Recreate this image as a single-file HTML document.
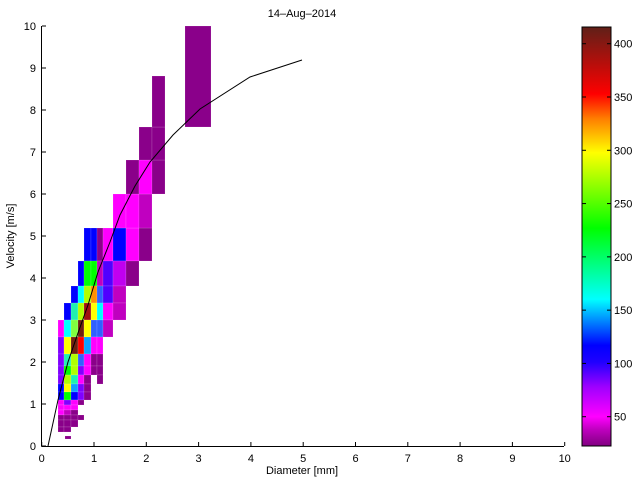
<!DOCTYPE html>
<html><head><meta charset="utf-8"><style>
html,body{margin:0;padding:0;background:#fff;}
svg{display:block;font-family:"Liberation Sans",sans-serif;}
</style></head><body>
<svg id="s" width="640" height="480" viewBox="0 0 640 480" xmlns="http://www.w3.org/2000/svg">
<defs>
<linearGradient id="cb" x1="0" y1="1" x2="0" y2="0">
<stop offset="0" stop-color="#800080"/>
<stop offset="0.04" stop-color="#c000c0"/>
<stop offset="0.07" stop-color="#ff00ff"/>
<stop offset="0.14" stop-color="#a000ff"/>
<stop offset="0.2" stop-color="#2000ff"/>
<stop offset="0.24" stop-color="#0000ff"/>
<stop offset="0.35" stop-color="#00ffff"/>
<stop offset="0.52" stop-color="#00ff00"/>
<stop offset="0.7" stop-color="#ffff00"/>
<stop offset="0.78" stop-color="#ff8000"/>
<stop offset="0.84" stop-color="#ff0000"/>
<stop offset="1" stop-color="#602018"/>
</linearGradient>
</defs>
<g id="cells" stroke="rgba(255,255,255,0.25)" stroke-width="0.5"></g>
<polyline fill="none" stroke="#000" stroke-width="1" points="48,446 58,400 68,362 78,333 88,305 98,272 110,242 120,215 135,186 150,162 173,135 200,109 250,77 302,60"/>
<g stroke="#000" stroke-width="1" fill="none">
<line x1="41.5" y1="26" x2="41.5" y2="446.5"/>
<line x1="41.5" y1="446.5" x2="564" y2="446.5"/>
</g>
<g id="ticks" stroke="#000" stroke-width="1"></g>
<g id="lbl" font-size="11" fill="#000"></g>
<text x="302" y="17" font-size="11" text-anchor="middle">14–Aug–2014</text>
<text x="302" y="474" font-size="11" text-anchor="middle">Diameter [mm]</text>
<text transform="translate(14,236) rotate(-90)" font-size="11" text-anchor="middle">Velocity [m/s]</text>
<rect x="582" y="27" width="29" height="419" fill="url(#cb)" stroke="#000" stroke-width="1"/>
<g id="cbt" stroke="#000" stroke-width="1"></g>
<g id="cbl" font-size="11"></g>
</svg>
<script>
var NS="http://www.w3.org/2000/svg";
function el(p,t,a,txt){var e=document.createElementNS(NS,t);for(var k in a)e.setAttribute(k,a[k]);if(txt!==undefined)e.textContent=txt;document.getElementById(p).appendChild(e);}
var X=function(d){return 41.7+52.3*d;},Y=function(v){return 446-42*v;};
for(var i=0;i<=10;i++){
 el("ticks","line",{x1:X(i),y1:446,x2:X(i),y2:442});
 el("ticks","line",{x1:42,y1:Y(i),x2:46,y2:Y(i)});
 el("lbl","text",{x:X(i),y:462,"text-anchor":"middle"},i);
 el("lbl","text",{x:36,y:Y(i)+4,"text-anchor":"end"},i);
}
for(var v=50;v<=400;v+=50){var y=470-v*(373/350);
 el("cbt","line",{x1:582,y1:y,x2:586,y2:y});el("cbt","line",{x1:607,y1:y,x2:611,y2:y});
 el("cbl","text",{x:614,y:y+4},v);}
var C={P:"#8a008a",M:"#ff00ff",m:"#c000c0",V:"#8000ff",v:"#c000f0",W:"#5000ff",B:"#0000ff",b:"#3060ff",S:"#10a0ff",C:"#00ffff",T:"#20f0b0",G:"#00ff00",g:"#80ff40",L:"#b0ff00",Y:"#ffff00",O:"#ff9000",R:"#ff0000",D:"#a01010",K:"#702010"};
var cx=[58,64,71,78,84,91,97,103,113,126,139,152,165];
var rows=[
[228,261,"....BBPMBMP."],
[261,286,"...BGGmWvP.."],
[286,303,"..BCLObWm..."],
[303,320,".BTLDYCMm..."],
[320,337,"MCgKYbbm...."],
[337,354,"VYKRSMM....."],
[354,366,"VTLbMPP....."],
[366,375,"VGLVMPP....."],
[375,384,"VLTMP.P....."],
[384,392,"BYSVP......."],
[392,400,"BGBVP......."],
[400,405,"MVMP........"],
[405,410,"MMM........."],
[410,415,"MmP........."],
[415,420,"PPPP........"],
[420,427,"PPP........."],
[427,432,"PP.........."],
[194,228,"........MMm."],
[160,194,".........PMP"],
[127,160,"..........PP"],
[76,127,"...........P"]];
rows.forEach(function(r){for(var j=0;j<12;j++){var c=r[2][j];if(c==".")continue;
 el("cells","rect",{x:cx[j],y:r[0],width:cx[j+1]-cx[j],height:r[1]-r[0],fill:C[c]});}});
el("cells","rect",{x:185,y:26,width:26,height:101,fill:C.P});
el("cells","rect",{x:65,y:436,width:6,height:3,fill:C.P});
</script>
</body></html>
